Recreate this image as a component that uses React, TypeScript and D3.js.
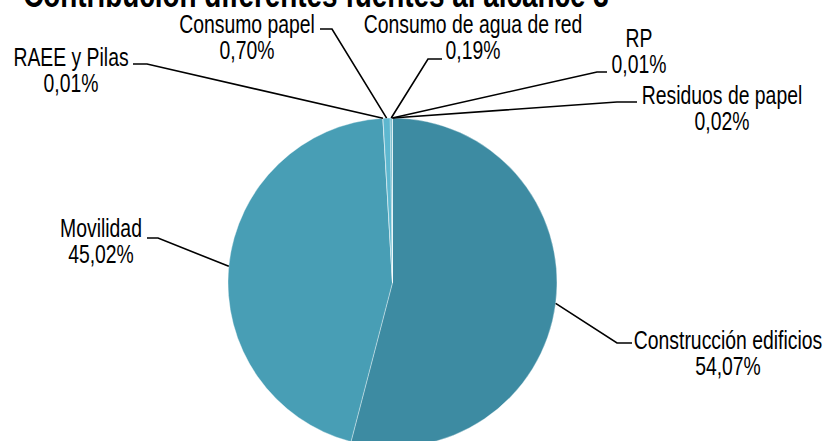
import React from "react";
import * as d3 from "d3";

const categories = [
  "Construcción edificios",
  "Movilidad",
  "RAEE y Pilas",
  "Consumo papel",
  "Consumo de agua de red",
  "RP",
  "Residuos de papel",
];
const values = [54.07, 45.02, 0.01, 0.7, 0.19, 0.01, 0.02];
const title = "Contribución diferentes fuentes al alcance 3";

const colors = ["#3d8ba2", "#489eb5", "#5ab0c8", "#5db7cf", "#4fa7be", "#3a8299", "#66bcd4"];

// label layout: centre x, first baseline, leader elbow point, dash end x
const labelLayout = [
  { cx: 728, y: 349, ex: 617, ey: 343, dx: 632 },
  { cx: 101, y: 237, ex: 158, ey: 238, dx: 147 },
  { cx: 71, y: 66, ex: 147, ey: 64, dx: 133 },
  { cx: 247, y: 33, ex: 332, ey: 29, dx: 320 },
  { cx: 473, y: 33, ex: 428, ey: 59, dx: 442 },
  { cx: 639, y: 47, ex: 597, ey: 72, dx: 607 },
  { cx: 722, y: 104, ex: 617, ey: 102, dx: 637 },
];

const W = 827;
const H = 441;
const CX = 392.5;
const CY = 282.5;
const R = 164.5;
const SX = 0.775;
const FONT = "'Liberation Sans', Arial, sans-serif";

const fmt = (v: number) => d3.format(".2f")(v).replace(".", ",") + "%";

export default function App() {
  const pie = d3.pie<number>().sort(null).value((d) => d);
  const arcs = pie(values);
  const arc = d3.arc<d3.PieArcDatum<number>>().innerRadius(0).outerRadius(R);
  const line = d3.line();

  return (
    <svg
      width={W}
      height={H}
      style={{ position: "absolute", left: 0, top: 0, background: "#fff" }}
      fontFamily={FONT}
    >
      <g transform={`translate(${W / 2 - 97.5},7) scale(${SX},1)`}>
        <text x={0} y={0} textAnchor="middle" fontSize={36} fontWeight="bold" fill="#000">
          {title}
        </text>
      </g>
      <g transform={`translate(${CX},${CY})`}>
        {arcs.map((a, i) => (
          <path
            key={i}
            d={arc(a) || ""}
            fill={colors[i]}
            stroke="#ffffff"
            strokeOpacity={0.45}
            strokeWidth={0.8}
          />
        ))}
      </g>
      {arcs.map((a, i) => {
        const mid = (a.startAngle + a.endAngle) / 2;
        const px = CX + R * Math.sin(mid);
        const py = CY - R * Math.cos(mid);
        const L = labelLayout[i];
        return (
          <path
            key={"l" + i}
            d={
              line([
                [px, py],
                [L.ex, L.ey],
                [L.dx, L.ey],
              ]) || ""
            }
            fill="none"
            stroke="#000"
            strokeWidth={1.6}
          />
        );
      })}
      {categories.map((c, i) => {
        const L = labelLayout[i];
        return (
          <g key={"t" + i} transform={`translate(${L.cx},0) scale(${SX},1)`}>
            <text x={0} y={L.y} textAnchor="middle" fontSize={25} fill="#000">
              {c}
            </text>
            <text x={0} y={L.y + 26} textAnchor="middle" fontSize={25} fill="#000">
              {fmt(values[i])}
            </text>
          </g>
        );
      })}
    </svg>
  );
}
